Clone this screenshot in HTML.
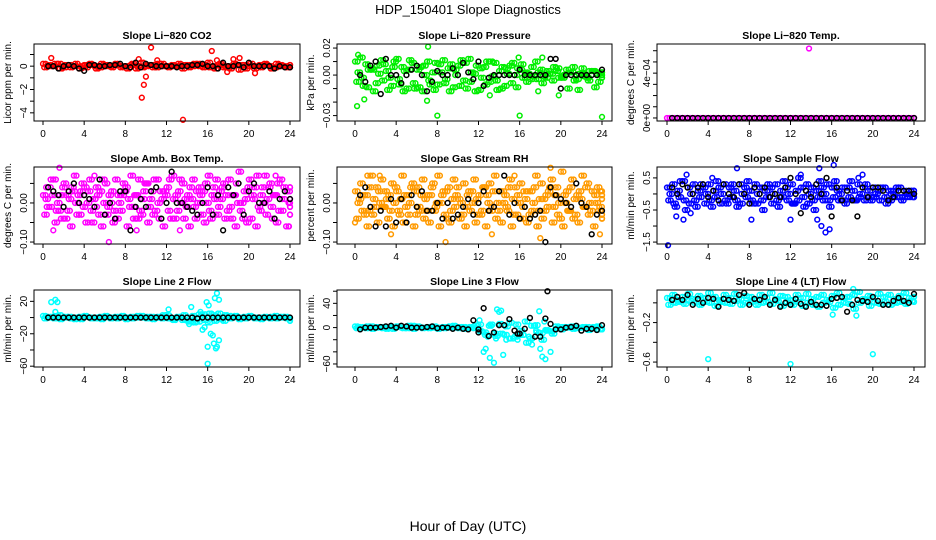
<!DOCTYPE html>
<html><head><meta charset="utf-8"><style>
body{margin:0;background:#fff;}
svg{display:block;font-family:"Liberation Sans",sans-serif;}
</style></head><body>
<svg id="c" width="936" height="540" viewBox="0 0 936 540" xmlns="http://www.w3.org/2000/svg">
<text x="468" y="14" font-size="13" text-anchor="middle">HDP_150401  Slope Diagnostics</text>
<text x="468" y="531" font-size="14" text-anchor="middle">Hour of Day (UTC)</text>
</svg>
<script>
const xTicks=[0,4,8,12,16,20,24];
// Panel 1 CO2
const co2A=[0.2,0.1,0.0,0.2,-0.1,0.1,0.0,-0.2,0.1,0.2,0.0,-0.1,0.1,0.0,0.2,-0.1,0.0,0.1,-0.2,0.3,0.0,0.1,-0.1,0.2,0.0,0.1,0.0,-0.2,0.1,0.0,0.2,-0.1,0.3,0.0,0.1,-0.1,0.0,0.2,-0.3,0.1,0.0,-0.2,0.1,0.2,0.0,-0.1,0.1,0.0,-0.1];
const co2B=[-0.1,0.0,0.2,-0.2,0.1,-0.1,0.2,0.0,-0.1,0.1,-0.2,0.2,0.0,-0.1,0.1,0.0,-0.2,0.2,0.0,-0.1,0.1,-0.1,0.2,0.0,-0.1,0.0,0.2,0.1,-0.1,0.2,0.0,0.1,-0.1,-0.2,0.2,0.0,-0.2,0.1,0.1,-0.2,0.2,0.0,-0.1,0.1,-0.2,0.2,0.0,-0.1,0.1];
const co2Out=[[0.8,0.7],[9.6,-2.7],[9.8,-1.6],[10.0,-0.9],[10.5,1.6],[13.6,-4.6],[16.4,1.3],[9.3,0.6],[19.1,0.7],[18.5,0.6],[20.6,-0.6],[17.9,-0.5],[11.1,0.5],[16.9,0.5]];
const co2K=[0.0,0.0,-0.2,0.0,0.1,0.0,-0.2,-0.4,0.1,0.1,0.0,0.0,0.1,0.1,0.2,0.0,-0.1,0.3,-0.1,0.2,0.1,0.0,0.0,0.0,0.0,-0.1,0.0,0.0,0.1,0.1,0.2,0.0,0.0,-0.2,0.3,0.0,0.0,0.1,-0.1,0.3,0.0,0.0,0.0,0.0,-0.2,0.0,-0.1,-0.1];
// Panel 2 Pressure
const prA=[0.010,0.013,0.008,0.005,-0.006,0.011,0.003,-0.008,0.012,0.006,-0.010,0.009,0.004,-0.012,0.010,0.002,-0.007,0.011,0.005,-0.009,0.007,-0.004,0.012,0.001,-0.011,0.006,-0.005,0.009,0.003,-0.008,0.007,0.000,0.004,0.002,-0.003,0.010,0.004,-0.002,0.001,0.003,-0.001,0.004,0.002,-0.003,0.005,-0.002,0.003,0.001,0.002];
const prB=[-0.005,-0.002,-0.009,0.004,0.007,-0.004,-0.011,0.006,-0.003,-0.012,0.004,-0.006,-0.009,0.007,-0.004,-0.011,0.008,-0.006,-0.012,0.004,-0.008,0.009,-0.005,-0.012,0.005,-0.007,0.010,-0.004,-0.010,0.005,-0.006,-0.009,0.008,-0.005,0.006,-0.003,-0.006,0.003,-0.004,0.005,-0.002,-0.010,0.006,-0.011,0.001,-0.004,0.003,-0.005,-0.002];
const prC=[0.002,-0.008,0.004,-0.012,0.001,0.008,-0.002,0.010,-0.007,0.003,0.011,-0.010,0.006,0.000,-0.007,0.009,0.002,-0.003,0.008,0.000,0.011,-0.010,0.002,0.007,-0.002,0.010,-0.001,-0.011,0.006,0.001,0.009,0.005,-0.002,0.001,-0.001,0.002,-0.001,0.001,0.006,-0.002,0.000,0.002,-0.004,0.001,-0.001,0.003,-0.009,0.002,0.000];
const prOut=[[0.2,-0.023],[0.3,0.015],[0.9,-0.018],[7.1,0.021],[7.0,-0.019],[8.0,-0.030],[16.0,-0.030],[24.0,-0.031],[18.2,0.013],[17.8,-0.012],[19.8,-0.015],[15.9,0.013],[13.1,-0.015]];
const prK=[0.0,-0.005,0.007,0.010,-0.014,0.012,0.000,0.000,-0.006,0.000,0.004,0.007,0.000,-0.012,-0.005,0.003,0.000,0.000,0.005,0.000,0.009,0.002,-0.003,0.010,-0.008,-0.002,0.000,0.000,0.000,0.000,0.000,0.004,0.000,0.000,0.000,0.000,0.000,0.012,0.012,-0.010,0.000,0.000,0.000,0.000,0.000,0.000,0.000,0.004];
// Panel 3 Temp
const tpA=[0,0,0,0,0,0,0,0,0,0,0,0,0,0,0,0,0,0,0,0,0,0,0,0,0,0,0,0,0,0,0,0,0,0,0,0,0,0,0,0,0,0,0,0,0,0,0,0,0];
const tpOut=[[13.8,0.00062]];
const tpK=[0,0,0,0,0,0,0,0,0,0,0,0,0,0,0,0,0,0,0,0,0,0,0,0,0,0,0,0,0,0,0,0,0,0,0,0,0,0,0,0,0,0,0,0,0,0,0,0];
// Panel 4 Amb box temp
const amA=[0.02,0.04,0.06,-0.02,0.05,0.01,0.07,-0.03,0.04,0.06,-0.01,0.03,0.05,0.00,0.06,-0.02,0.04,0.07,0.02,-0.03,0.05,0.03,0.06,0.01,0.04,0.07,-0.02,0.05,0.02,0.06,0.00,0.03,0.07,0.04,-0.01,0.05,0.06,0.02,0.08,0.03,0.06,0.04,-0.02,0.07,0.05,0.02,0.06,0.03,0.04];
const amB=[-0.03,-0.01,-0.05,0.02,-0.04,-0.06,0.00,0.03,-0.05,-0.02,0.04,-0.06,-0.03,0.03,-0.04,0.02,-0.06,-0.01,-0.04,0.01,-0.05,-0.03,0.00,-0.06,-0.02,0.01,0.03,-0.04,-0.06,-0.01,0.04,-0.05,-0.02,0.01,0.03,-0.04,-0.01,-0.06,-0.02,0.01,-0.04,-0.06,0.02,-0.03,-0.01,-0.05,-0.02,-0.06,-0.03];
const amC=[0.01,0.06,-0.02,-0.04,0.02,0.04,-0.03,0.05,0.00,-0.05,0.02,0.06,-0.01,-0.05,0.02,0.05,0.01,-0.04,0.06,0.03,-0.01,0.06,-0.04,0.03,0.06,-0.04,0.06,0.01,0.04,-0.04,0.02,0.05,-0.04,0.06,0.01,0.02,-0.04,0.05,0.00,-0.05,0.02,0.07,0.04,0.01,-0.04,0.05,0.01,0.03,-0.01];
const amD=[-0.01,0.02,0.00,0.04,-0.02,0.03,0.02,-0.01,0.03,0.01,-0.03,0.00,0.02,-0.02,0.00,0.03,-0.01,0.02,-0.02,0.05,0.01,-0.02,0.03,0.02,-0.04,0.02,0.00,-0.01,0.01,0.03,-0.03,0.00,0.02,-0.03,0.04,-0.02,0.02,0.00,-0.04,0.04,0.01,-0.01,0.00,0.04,0.02,-0.02,0.04,0.00,0.01];
const amOut=[[0.3,0.04],[1.0,-0.07],[1.6,0.09],[5.0,0.07],[6.4,-0.10],[9.1,-0.07],[13.3,-0.07],[22.6,0.07],[23.9,-0.06]];
const amK=[0.04,0.03,0.02,-0.01,0.03,0.05,0.00,0.02,0.01,-0.01,0.06,-0.03,0.00,-0.04,0.03,0.03,-0.07,-0.01,0.01,-0.01,0.03,0.04,-0.04,0.00,0.08,0.00,0.00,-0.01,-0.02,-0.03,0.00,0.04,-0.03,0.02,-0.07,0.04,0.02,0.05,-0.03,0.03,0.05,0.00,0.00,0.03,-0.04,0.01,0.03,0.01];
// Panel 5 RH
const rhA=[0.03,0.05,0.02,0.07,0.04,0.06,0.01,0.05,0.03,0.07,0.02,0.05,0.04,0.06,0.02,0.05,0.07,0.03,0.04,0.06,0.01,0.05,0.03,0.06,0.02,0.04,0.05,0.07,0.03,0.02,0.06,0.04,0.05,0.01,0.03,0.07,0.05,0.02,0.06,0.04,0.08,0.03,0.06,0.02,0.07,0.05,0.03,0.04,0.02];
const rhB=[-0.04,-0.02,-0.06,-0.03,-0.05,-0.01,-0.04,-0.06,-0.02,-0.05,-0.03,-0.06,-0.01,-0.04,-0.05,-0.02,-0.06,-0.03,-0.05,-0.01,-0.04,-0.06,-0.02,-0.05,-0.03,-0.06,-0.02,-0.04,-0.05,-0.01,-0.06,-0.03,-0.04,-0.05,-0.02,-0.06,-0.04,-0.01,-0.05,-0.03,-0.06,-0.02,-0.04,-0.05,-0.01,-0.03,-0.06,-0.02,-0.04];
const rhC=[0.00,0.02,-0.02,0.01,0.03,-0.01,0.02,0.00,-0.03,0.02,0.00,0.03,-0.02,0.01,0.02,-0.01,0.00,0.03,-0.02,0.02,0.00,-0.01,0.03,0.01,-0.02,0.02,-0.01,0.00,0.03,-0.02,0.01,0.02,-0.01,0.03,0.00,-0.02,0.01,0.03,-0.01,0.00,0.02,-0.02,0.01,0.03,-0.01,0.00,0.02,-0.01,0.01];
const rhD=[0.01,-0.03,0.04,-0.01,0.00,0.03,-0.02,0.04,0.01,-0.01,0.04,-0.03,0.02,-0.02,0.04,0.00,0.02,-0.04,0.01,0.04,-0.03,0.02,0.00,-0.03,0.04,0.00,0.03,-0.02,0.00,0.04,-0.03,0.00,0.03,-0.03,0.04,0.01,-0.02,0.04,0.02,-0.04,0.00,0.04,-0.03,0.01,0.04,-0.02,0.00,0.03,-0.03];
const rhOut=[[0.0,-0.05],[1.2,0.07],[2.4,0.07],[3.5,-0.08],[8.8,-0.10],[13.3,-0.08],[15.5,0.07],[19.0,0.09],[23.8,-0.08],[18.0,-0.09]];
const rhK=[0.02,0.04,-0.01,-0.06,-0.02,-0.06,0.01,-0.05,0.01,-0.05,0.02,-0.01,0.03,-0.02,-0.02,0.00,-0.04,0.00,-0.04,-0.03,-0.01,0.01,-0.03,0.00,0.03,-0.02,-0.01,0.03,0.07,-0.03,0.00,-0.04,-0.01,-0.04,-0.03,-0.02,-0.10,0.04,0.02,0.01,0.00,-0.01,0.05,0.00,-0.01,-0.08,-0.03,-0.02];
// Panel 6 Sample flow
const sfA=[0.2,0.3,0.1,0.4,0.2,0.3,0.1,0.2,0.3,0.1,0.2,0.3,0.2,0.1,0.3,0.2,0.1,0.3,0.2,0.1,0.2,0.3,0.1,0.2,0.3,0.1,0.2,0.3,0.2,0.1,0.2,0.3,0.2,0.1,0.2,0.2,0.1,0.3,0.2,0.1,0.2,0.1,0.2,0.1,0.1,0.2,0.1,0.1,0.1];
const sfB=[-0.2,-0.3,-0.1,-0.2,-0.3,-0.2,-0.1,-0.3,-0.2,-0.1,-0.3,-0.2,-0.1,-0.2,-0.3,-0.1,-0.2,-0.3,-0.2,-0.1,-0.3,-0.2,-0.1,-0.2,-0.3,-0.2,-0.1,-0.3,-0.2,-0.1,-0.2,-0.2,-0.1,-0.2,-0.2,-0.1,-0.2,-0.1,-0.2,-0.1,-0.1,-0.2,-0.1,-0.2,-0.1,-0.1,-0.1,-0.1,-0.1];
const sfC=[0.0,-0.4,0.4,-0.5,0.0,-0.4,0.3,0.0,-0.4,0.4,0.0,-0.3,0.3,-0.4,0.0,0.4,-0.3,0.0,-0.5,0.3,0.0,-0.4,0.4,0.0,-0.3,0.5,-0.4,0.0,-0.5,0.4,0.0,-0.4,0.4,0.0,-0.3,0.4,-0.2,0.0,0.3,-0.2,0.0,0.2,-0.3,0.0,0.2,-0.2,0.0,0.1,0.0];
const sfOut=[[0.1,-1.6],[0.9,-0.7],[1.6,-0.8],[1.9,0.6],[2.3,-0.6],[6.8,0.8],[8.2,-0.8],[12.0,-0.8],[13.0,0.6],[14.8,0.8],[14.6,-0.8],[15.0,-1.0],[15.4,-1.2],[15.8,-1.1],[16.2,0.9],[19.0,0.6],[18.6,0.5],[4.4,0.5]];
const sfK=[0.2,0.0,0.3,0.2,0.0,0.2,0.3,-0.1,0.1,-0.2,0.3,0.0,-0.1,0.3,0.0,-0.3,0.2,0.0,0.2,-0.1,0.0,-0.1,0.2,0.5,0.0,-0.6,0.1,-0.1,0.3,0.0,0.5,-0.7,0.2,-0.2,0.1,-0.2,-0.7,0.2,-0.1,0.2,0.2,0.1,-0.2,-0.1,0.1,0.1,0.1,0.0];
// Panel 7 Line 2
const l2A=[2,1,-1,3,0,1,-2,1,2,0,-1,1,2,-1,1,0,-2,1,0,2,-1,1,0,-1,3,-2,1,-3,-4,2,-5,4,-6,3,5,-4,2,1,-2,1,2,-1,0,1,-1,2,0,1,-1];
const l2B=[-1,0,2,-2,1,-1,0,-2,1,-1,0,-2,1,0,-1,2,0,-1,2,0,1,-2,1,3,-1,-3,0,3,-5,-6,4,-3,5,-4,-2,3,-1,2,0,-1,1,0,-2,0,1,-1,1,-1,-4];
const l2Out=[[0.8,19],[1.2,22],[1.4,19],[1.2,7],[12.2,10],[14.4,13],[15.3,7],[15.5,-15],[15.9,19],[16.1,15],[16.0,-36],[16.3,-20],[16.5,-22],[16.0,-57],[16.7,24],[16.9,30],[17.1,22],[16.8,-38],[16.6,-32],[16.9,-36],[17.1,-28],[14.2,-8],[15.7,-12]];
const l2K=[0,0,0,0,0,0,0,0,0,0,0,0,0,0,0,0,0,0,0,0,0,0,0,0,0,0,0,0,0,-1,0,0,0,0,0,0,0,0,0,0,0,0,0,0,0,0,0,0];
// Panel 8 Line 3
const l3A=[2,1,-1,2,0,1,-2,1,2,0,-1,3,2,-1,1,0,-2,1,0,3,-1,1,0,-1,5,-8,3,-10,6,-12,8,-15,-5,10,-18,4,-9,-4,-6,2,-3,1,2,-1,0,1,-1,2,-3];
const l3B=[-1,0,2,-2,1,-1,0,-2,1,-1,3,-2,1,0,-1,2,0,-1,2,0,1,-2,1,3,-6,-12,5,-14,-10,2,-18,5,-12,-25,3,-8,-20,-5,-10,-1,1,0,-2,0,1,-4,1,-3,-2];
const l3Out=[[12.1,12],[12.1,-5],[12.5,-40],[12.7,-35],[12.9,-15],[13.1,-50],[13.5,-58],[13.7,-18],[13.8,30],[14.0,26],[14.2,28],[14.4,-45],[14.7,-20],[15.0,-18],[15.8,-20],[16.1,-12],[16.4,-12],[17.2,-28],[17.6,-5],[17.9,27],[18.0,-35],[18.2,-48],[18.5,-52],[18.6,-5],[19.0,-40],[18.4,10],[16.9,-15]];
const l3K=[-3,0,0,0,1,2,3,0,3,2,0,0,0,1,2,-1,0,0,-2,0,-2,-3,12,-3,32,-14,-8,4,4,14,-5,-10,-2,16,-15,-15,15,6,-3,-3,0,1,3,-5,-2,-2,-4,4];
const l3Extra=[[18.7,60],[12.0,-8],[15.8,-10]];
// Panel 9 Line 4
const l4A=[0.05,0.08,0.03,0.06,0.09,0.04,0.07,0.05,0.10,0.06,0.03,0.08,0.05,0.09,0.04,0.07,0.06,0.03,0.08,0.05,0.10,0.04,0.07,0.06,0.03,0.08,0.05,0.09,0.04,0.06,0.08,0.03,0.07,0.10,0.05,0.06,0.08,0.11,0.04,0.07,0.05,0.09,0.06,0.08,0.04,0.07,0.10,0.05,0.06];
const l4B=[-0.02,0.00,0.01,-0.01,0.02,0.00,-0.02,0.01,0.00,-0.03,0.01,0.00,-0.01,0.02,-0.02,0.00,0.01,-0.02,0.00,0.01,-0.01,0.02,-0.03,0.00,-0.02,0.01,-0.03,0.00,-0.02,-0.04,0.00,0.01,-0.05,-0.02,0.00,-0.01,-0.06,0.00,0.02,-0.03,0.00,-0.01,0.01,-0.02,0.00,0.01,-0.01,0.02,0.01];
const l4Out=[[4.0,-0.57],[12.0,-0.62],[20.0,-0.52],[18.4,-0.13],[18.1,0.14],[16.1,-0.12]];
const l4K=[0.03,0.06,0.03,0.08,-0.02,0.04,0.00,0.05,0.04,-0.04,0.04,0.03,0.02,0.08,0.10,-0.02,0.04,0.03,0.06,-0.02,0.03,-0.04,0.00,-0.02,0.04,-0.01,-0.04,0.01,-0.02,-0.02,-0.03,0.04,0.05,0.06,-0.09,-0.02,0.03,0.02,0.01,0.06,0.02,-0.02,-0.02,0.02,0.05,0.02,0.00,0.09];

const svg=document.getElementById('c');
const NS='http://www.w3.org/2000/svg';
function mk(tag,attrs,parent){const e=document.createElementNS(NS,tag);for(const k in attrs)e.setAttribute(k,attrs[k]);parent.appendChild(e);return e;}
const cols=[{l:34,r:300,x0:43},{l:337,r:612,x0:355},{l:657,r:925,x0:667}];
const rows=[{t:44,b:121},{t:167,b:244},{t:290,b:367}];
const panels=[
 {name:'co2',title:'Slope Li\u2212820 CO2',ylab:'Licor ppm per min.',ymin:-4.7,ymax:1.9,ticks:[-4,-3,-2,-1,0,1],labels:{'-4':'\u22124','-2':'\u22122','0':'0'},col:'#ff0000',series:[co2A,co2B],out:co2Out,k:co2K},
 {name:'pressure',title:'Slope Li\u2212820 Pressure',ylab:'kPa per min.',ymin:-0.034,ymax:0.023,ticks:[-0.03,-0.02,-0.01,0,0.01,0.02],labels:{'-0.03':'\u22120.03','0':'0.00','0.02':'0.02'},col:'#00ee00',series:[prA,prB,prC],out:prOut,k:prK},
 {name:'temp',title:'Slope Li\u2212820 Temp.',ylab:'degrees C per min.',ymin:-0.000027,ymax:0.00066,ticks:[0,0.0001,0.0002,0.0003,0.0004,0.0005,0.0006],labels:{'0':'0e+00','0.0004':'4e\u221204'},col:'#ff00ff',series:[tpA],out:tpOut,k:tpK},
 {name:'amb-temp',title:'Slope Amb. Box Temp.',ylab:'degrees C per min.',ymin:-0.105,ymax:0.092,ticks:[-0.1,-0.05,0,0.05],labels:{'-0.1':'\u22120.10','0':'0.00'},col:'#ff00ff',series:[amA,amB,amC,amD],out:amOut,k:amK},
 {name:'rh',title:'Slope Gas Stream RH',ylab:'percent per min.',ymin:-0.105,ymax:0.092,ticks:[-0.1,-0.05,0,0.05],labels:{'-0.1':'\u22120.10','0':'0.00'},col:'#ff9a00',series:[rhA,rhB,rhC,rhD],out:rhOut,k:rhK},
 {name:'sample-flow',title:'Slope Sample Flow',ylab:'ml/min per min.',ymin:-1.56,ymax:0.84,ticks:[-1.5,-1,-0.5,0,0.5],labels:{'-1.5':'\u22121.5','-0.5':'\u22120.5','0.5':'0.5'},col:'#0000ff',series:[sfA,sfB,sfC],out:sfOut,k:sfK},
 {name:'line2-flow',title:'Slope Line 2 Flow',ylab:'ml/min per min.',ymin:-61,ymax:34,ticks:[-60,-40,-20,0,20],labels:{'-60':'\u221260','-20':'\u221220','20':'20'},col:'#00ffff',series:[l2A,l2B],out:l2Out,k:l2K},
 {name:'line3-flow',title:'Slope Line 3 Flow',ylab:'ml/min per min.',ymin:-65,ymax:62,ticks:[-60,-40,-20,0,20,40,60],labels:{'-60':'\u221260','0':'0','40':'40'},col:'#00ffff',series:[l3A,l3B],out:l3Out,k:l3K,kx:l3Extra},
 {name:'line4-flow',title:'Slope Line 4 (LT) Flow',ylab:'ml/min per min.',ymin:-0.65,ymax:0.13,ticks:[-0.6,-0.4,-0.2,0],labels:{'-0.6':'\u22120.6','-0.2':'\u22120.2'},col:'#00ffff',series:[l4A,l4B],out:l4Out,k:l4K}
];
panels.forEach((p,i)=>{
 const c=cols[i%3],r=rows[Math.floor(i/3)];
 const xs=h=>c.x0+h/24*247;
 const ys=v=>r.b-(v-p.ymin)/(p.ymax-p.ymin)*(r.b-r.t);
 const g=mk('g',{},svg);
 
 
 const t=mk('text',{x:(c.l+c.r)/2,y:r.t-5,'font-size':10.5,'font-weight':'bold','text-anchor':'middle'},g);
 t.textContent=p.title;
 
 
 const yl=mk('text',{x:0,y:0,'font-size':10,'text-anchor':'middle',transform:`translate(${c.l-23},${(r.t+r.b)/2}) rotate(-90)`},g);
 yl.textContent=p.ylab;
 
 
 const pts=mk('g',{fill:'none','stroke-width':1.5},g);
 
 
 const dot=(h,v,col)=>{const e=mk('circle',{cx:xs(h),cy:ys(v),r:2.4,stroke:col},pts);
  
  };
 p.series.forEach((s,si)=>{s.forEach((v,j)=>{
   const h=Math.min(24,j*0.5+si*0.12);dot(h,v,p.col);
   const h2=Math.min(24,j*0.5+0.25+si*0.12);dot(h2,v,p.col);
 });});
 p.out.forEach(o=>dot(o[0],o[1],p.col));
 p.k.forEach((v,j)=>dot((j+1)*0.5,v,'#000'));
 if(p.kx)p.kx.forEach(o=>dot(o[0],o[1],'#000'));
 const box=mk('rect',{x:c.l,y:r.t,width:c.r-c.l,height:r.b-r.t,fill:'none',stroke:'#000','stroke-width':1},g);
 
 
 xTicks.forEach(h=>{
  mk('line',{x1:xs(h),x2:xs(h),y1:r.b,y2:r.b+4,stroke:'#000'},g);
  const tl=mk('text',{x:xs(h),y:r.b+16,'font-size':10,'text-anchor':'middle'},g);
  tl.textContent=h;
  
  
 });
 p.ticks.forEach(v=>{
  const y=ys(v);
  mk('line',{x1:c.l-4,x2:c.l,y1:y,y2:y,stroke:'#000'},g);
  const key=String(v);
  if(p.labels[key]!==undefined){
   const tl=mk('text',{x:0,y:0,'font-size':10,'text-anchor':'middle',transform:`translate(${c.l-7},${y}) rotate(-90)`},g);
   tl.textContent=p.labels[key];
   
   
  }
 });
});
</script>
</body></html>
